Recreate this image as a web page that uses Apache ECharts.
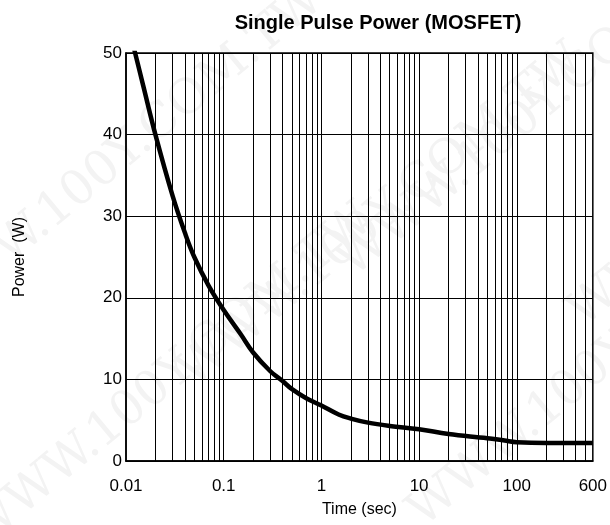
<!DOCTYPE html>
<html>
<head>
<meta charset="utf-8">
<script src="https://cdn.jsdelivr.net/npm/echarts@6/dist/echarts.min.js"></script>
<style>
  html, body { margin: 0; padding: 0; background: #fff; }
  #chart { width: 610px; height: 525px; }
</style>
</head>
<body>
<div id="chart"></div>
<script>
// pulse time (sec) and power (W)
var times  = [0.01, 0.0124, 0.015, 0.02, 0.03, 0.04, 0.05, 0.07, 0.1, 0.15, 0.2, 0.3, 0.4, 0.5, 0.7, 1, 1.5, 2, 3, 5, 10, 20, 50, 75, 100, 200, 600];
var powers = [54.5, 50, 46, 40, 32.5, 28, 25, 21.5, 18.5, 15.5, 13.3, 11, 9.8, 8.8, 7.7, 6.8, 5.7, 5.2, 4.7, 4.3, 3.9, 3.3, 2.8, 2.5, 2.3, 2.2, 2.2];

// vertical grid lines of the log paper
var gridTimes = [0.02, 0.03, 0.04, 0.05, 0.06, 0.07, 0.08, 0.09,
                 0.1, 0.2, 0.3, 0.4, 0.5, 0.6, 0.7, 0.8, 0.9,
                 1, 2, 3, 4, 5, 6, 7, 8, 9,
                 10, 20, 30, 40, 50, 60, 70, 80, 90,
                 100, 200, 300, 400, 500];

var xTicks = [0.01, 0.1, 1, 10, 100, 600];
var xTickLabels = ['0.01', '0.1', '1', '10', '100', '600'];

var font = 'Liberation Sans, Arial, Helvetica, sans-serif';

var curve = [];
for (var i = 0; i < times.length; i++) curve.push([times[i], powers[i]]);

var gridMarks = gridTimes.map(function (t) { return { xAxis: t }; });

// faint site watermark
var wmText = 'WWW.100Y.COM.TW';
var wmSpots = [[-90, 300], [-40, 520], [170, 360], [330, 250], [400, 500], [560, 300]];
var watermarks = wmSpots.map(function (p) {
    return {
        type: 'text', x: p[0], y: p[1], rotation: Math.PI * 0.22, z: -10, silent: true,
        style: { text: wmText, fill: '#f3f3f3', font: '48px "DejaVu Serif", serif' }
    };
});

var myChart = echarts.init(document.getElementById('chart'));

var option = {
    animation: false,
    backgroundColor: '#fff',
    graphic: watermarks,
    title: {
        text: 'Single Pulse Power (MOSFET)',
        left: 373, top: 8, textAlign: 'center',
        textStyle: { fontFamily: font, fontSize: 20, fontWeight: 'bold', color: '#000' }
    },
    grid: {
        left: 126, right: 15, top: 53, bottom: 64,
        show: true, borderColor: '#000', borderWidth: 1.5, backgroundColor: 'transparent'
    },
    xAxis: {
        type: 'log', logBase: 10, min: 0.01, max: 600,
        name: 'Time (sec)', nameLocation: 'middle', nameGap: 41,
        nameTextStyle: { fontFamily: font, fontSize: 16, color: '#000' },
        axisLine: { lineStyle: { color: '#000', width: 1.5 } },
        axisTick: { show: false },
        splitLine: { show: false },
        axisLabel: {
            margin: 17, fontFamily: font, fontSize: 17, color: '#000',
            formatter: function (v) {
                var best = 0;
                for (var k = 0; k < xTicks.length; k++) {
                    if (Math.abs(Math.log10(xTicks[k]) - Math.log10(v)) < Math.abs(Math.log10(xTicks[best]) - Math.log10(v))) best = k;
                }
                return xTickLabels[best];
            }
        }
    },
    yAxis: {
        type: 'value', min: 0, max: 50, interval: 10,
        name: 'Power  (W)', nameLocation: 'middle', nameGap: 98, nameRotate: 90,
        nameTextStyle: { fontFamily: font, fontSize: 16, color: '#000' },
        axisLine: { show: true, lineStyle: { color: '#000', width: 1.5 } },
        axisTick: { show: false },
        axisLabel: { margin: 4, fontFamily: font, fontSize: 17, color: '#000' },
        splitLine: { show: true, lineStyle: { color: '#000', width: 1 } }
    },
    series: [{
        type: 'line',
        data: curve,
        smooth: 0.4,
        showSymbol: false,
        clip: true,
        silent: true,
        z: 5,
        lineStyle: { color: '#000', width: 4.5 },
        markLine: {
            silent: true,
            symbol: 'none',
            label: { show: false },
            lineStyle: { color: '#000', width: 1, type: 'solid' },
            data: gridMarks
        }
    }]
};

myChart.setOption(option);
</script>
</body>
</html>
